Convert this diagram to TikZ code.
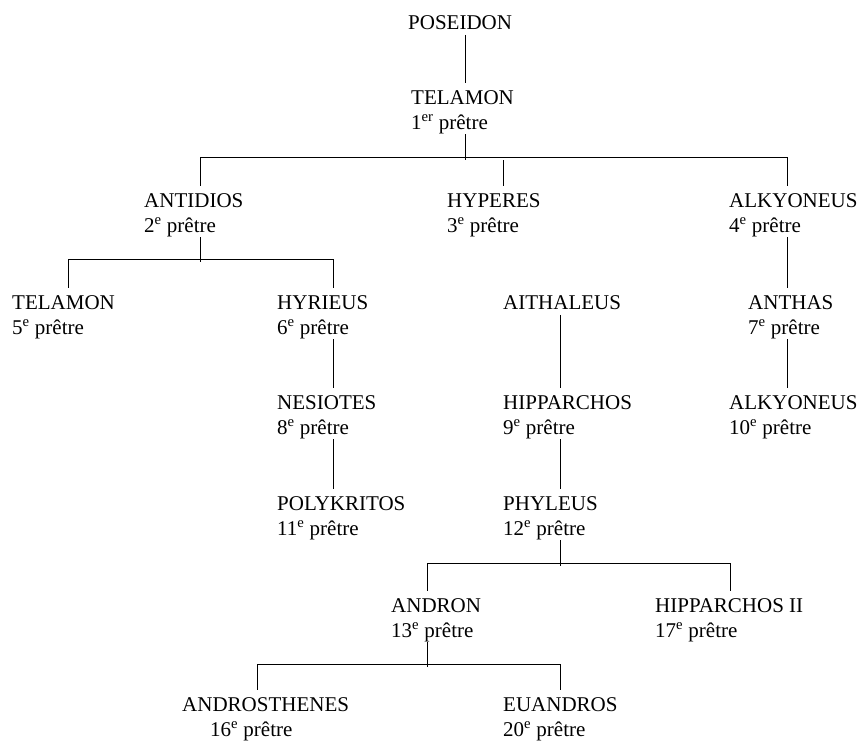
\documentclass[tikz,border=0pt]{standalone}
\usepackage{fontspec}
\setmainfont{Liberation Serif}

\begin{document}
\begin{tikzpicture}[
    x=1pt, y=-1pt,
    priest/.style={anchor=north west, align=left, inner sep=0pt, font=\fontsize{21}{25}\selectfont},
    lone/.style={priest, text depth=5pt},
    link/.style={line width=0.8pt, shorten <=0.5pt, shorten >=7pt},
    stub/.style={line width=0.8pt, shorten >=7pt},
    bar/.style={line width=0.8pt},
]
\useasboundingbox (0,0) rectangle (859,740);

% generations
\node[lone]   (poseidon)     at (408,15)  {POSEIDON};
\node[priest] (telamon)      at (411,90)  {TELAMON\\1\textsuperscript{er} prêtre};

\node[priest] (antidios)     at (144,193) {ANTIDIOS\\2\textsuperscript{e} prêtre};
\node[priest] (hyperes)      at (447,193) {HYPERES\\3\textsuperscript{e} prêtre};
\node[priest] (alkyoneus)    at (729,193) {ALKYONEUS\\4\textsuperscript{e} prêtre};

\node[priest] (telamonb)     at (12,295)  {TELAMON\\5\textsuperscript{e} prêtre};
\node[priest] (hyrieus)      at (277,295) {HYRIEUS\\6\textsuperscript{e} prêtre};
\node[lone]   (aithaleus)    at (503,295) {AITHALEUS};
\node[priest] (anthas)       at (748,295) {ANTHAS\\7\textsuperscript{e} prêtre};

\node[priest] (nesiotes)     at (277,395) {NESIOTES\\8\textsuperscript{e} prêtre};
\node[priest] (hipparchos)   at (503,395) {HIPPARCHOS\\9\textsuperscript{e} prêtre};
\node[priest] (alkyoneusb)   at (729,395) {ALKYONEUS\\10\textsuperscript{e} prêtre};

\node[priest] (polykritos)   at (277,496) {POLYKRITOS\\11\textsuperscript{e} prêtre};
\node[priest] (phyleus)      at (503,496) {PHYLEUS\\12\textsuperscript{e} prêtre};

\node[priest] (andron)       at (391,598) {ANDRON\\13\textsuperscript{e} prêtre};
\node[priest] (hipparchosb)  at (655,598) {HIPPARCHOS II\\17\textsuperscript{e} prêtre};

\node[priest] (androsthenes) at (182,697) {ANDROSTHENES\\\hspace*{28pt}16\textsuperscript{e} prêtre};
\node[priest] (euandros)     at (503,697) {EUANDROS\\20\textsuperscript{e} prêtre};

% straight lines
\foreach \a/\b/\x in {poseidon/telamon/465, alkyoneus/anthas/787, anthas/alkyoneusb/787,
                      hyrieus/nesiotes/333, nesiotes/polykritos/333,
                      aithaleus/hipparchos/560, hipparchos/phyleus/560} {
    \draw[link] (\a.south -| \x,0) -- (\b.north -| \x,0);
}

% forks
\coordinate (j1) at (465,157);
\coordinate (j2) at (200,259);
\coordinate (j3) at (560,563);
\coordinate (j4) at (427,664);

\foreach \p/\j in {telamon/j1, antidios/j2, phyleus/j3, andron/j4} {
    \draw[bar, shorten <=0.5pt] (\p.south -| \j) -- ([yshift=-3pt]\j);
}

\draw[bar] (j1 -| 200,0) -- (j1 -| 787,0);
\draw[bar] (j2 -| 68,0)  -- (j2 -| 333,0);
\draw[bar] (j3 -| 427,0) -- (j3 -| 730,0);
\draw[bar] (j4 -| 257,0) -- (j4 -| 560,0);

\foreach \j/\c/\x in {j1/antidios/200, j1/alkyoneus/787, j2/telamonb/68, j2/hyrieus/333,
                      j3/andron/427, j3/hipparchosb/730, j4/androsthenes/257, j4/euandros/560} {
    \draw[stub] (\j -| \x,0) -- (\c.north -| \x,0);
}
\draw[stub] ([yshift=-3pt]j1 -| 503,0) -- (hyperes.north -| 503,0);

\end{tikzpicture}
\end{document}
